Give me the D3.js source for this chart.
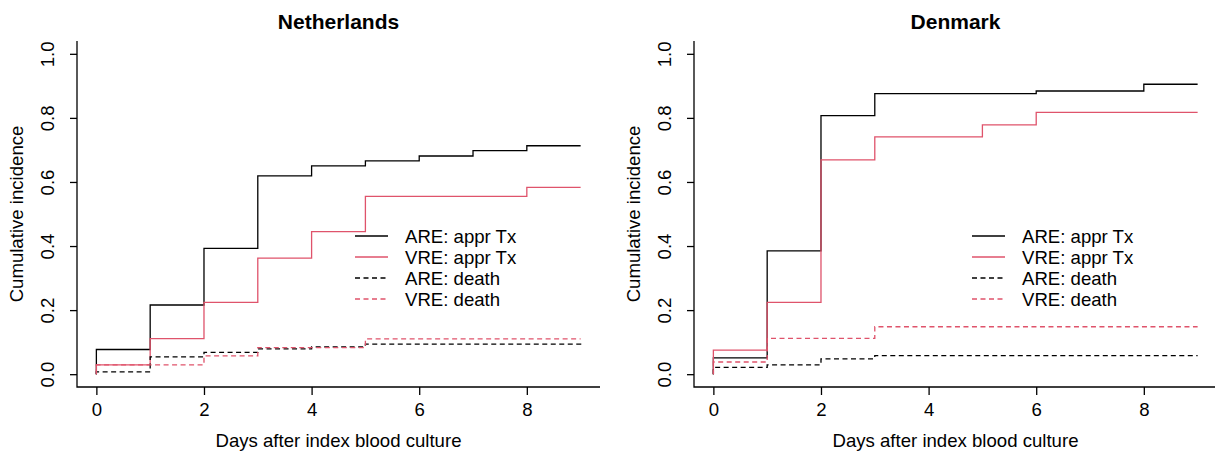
<!DOCTYPE html>
<html>
<head>
<meta charset="utf-8">
<script src="https://cdn.jsdelivr.net/npm/d3@7"></script>
<style>
  body { margin: 0; background: #fff; }
  text { font-family: "Liberation Sans", Arial, sans-serif; fill: #000; }
</style>
</head>
<body>
<svg id="chart"></svg>
<script>
var width = 1215;
var height = 454;

// days after index blood culture
var days = [0, 1, 2, 3, 4, 5, 6, 7, 8, 9];
var xTicks = [0, 2, 4, 6, 8];
var yTicks = [0, 0.2, 0.4, 0.6, 0.8, 1.0];
var countries = ["Netherlands", "Denmark"];
var seriesNames = ["ARE: appr Tx", "VRE: appr Tx", "ARE: death", "VRE: death"];

// cumulative incidence, one value per day
var nlAreTx    = [0.077, 0.216, 0.393, 0.619, 0.650, 0.666, 0.681, 0.698, 0.713, 0.713];
var nlVreTx    = [0.029, 0.111, 0.224, 0.362, 0.445, 0.555, 0.555, 0.555, 0.583, 0.583];
var nlAreDeath = [0.007, 0.054, 0.068, 0.079, 0.085, 0.094, 0.094, 0.094, 0.094, 0.098];
var nlVreDeath = [0.029, 0.029, 0.057, 0.083, 0.083, 0.110, 0.110, 0.110, 0.110, 0.110];

var dkAreTx    = [0.051, 0.385, 0.807, 0.876, 0.876, 0.876, 0.884, 0.884, 0.905, 0.905];
var dkVreTx    = [0.075, 0.224, 0.669, 0.741, 0.741, 0.778, 0.817, 0.817, 0.817, 0.817];
var dkAreDeath = [0.021, 0.029, 0.048, 0.058, 0.058, 0.058, 0.058, 0.058, 0.058, 0.058];
var dkVreDeath = [0.038, 0.112, 0.112, 0.148, 0.148, 0.148, 0.148, 0.148, 0.148, 0.148];

var panelSeries = [
    [nlAreTx, nlVreTx, nlAreDeath, nlVreDeath],
    [dkAreTx, dkVreTx, dkAreDeath, dkVreDeath]
];

var red = "#DF536B";
var colors = ["#000", red, "#000", red];
var dashes = [null, null, "5,3.5", "5,3.5"];
var fontSize = 18.6;

var panelOffset = [0, 617];
var plot = { left: 77, top: 41, width: 523, height: 346 };

var svg = d3.select("#chart")
            .attr("width", width)
            .attr("height", height);

// R style: domain padded by 4% on each side
var xscale = d3.scaleLinear()
                .domain([-0.36, 9.36])
                .range([0, plot.width]);
var yscale = d3.scaleLinear()
                .domain([-0.04, 1.04])
                .range([plot.height, 0]);

var line = d3.line()
             .x(function(d){ return xscale(d[0]); })
             .y(function(d){ return yscale(d[1]); })
             .curve(d3.curveStepAfter);

countries.forEach(function(name, p) {
    var g = svg.append("g")
               .attr("transform", "translate(" + (plot.left + panelOffset[p]) + "," + plot.top + ")");

    // L shaped box
    g.append("path")
     .attr("d", "M0,0V" + plot.height + "H" + plot.width)
     .attr("fill", "none")
     .attr("stroke", "#000")
     .attr("stroke-width", 1.3);

    var xaxis = d3.axisBottom(xscale).tickValues(xTicks).tickSize(8).tickPadding(8).tickFormat(d3.format("d"));
    var gx = g.append("g")
              .attr("transform", "translate(0," + plot.height + ")")
              .call(xaxis);
    gx.select(".domain").remove();
    gx.selectAll("line").attr("stroke-width", 1.3);
    gx.selectAll("text").attr("font-size", fontSize).attr("font-family", "Liberation Sans, Arial, sans-serif");

    var yaxis = d3.axisLeft(yscale).tickValues(yTicks).tickSize(7).tickFormat(d3.format(".1f"));
    var gy = g.append("g").call(yaxis);
    gy.select(".domain").remove();
    gy.selectAll("line").attr("stroke-width", 1.3);
    // rotated tick labels, like R's default las = 0
    gy.selectAll("text")
      .attr("font-size", fontSize)
      .attr("font-family", "Liberation Sans, Arial, sans-serif")
      .attr("x", 0).attr("y", 0).attr("dy", null)
      .attr("text-anchor", "middle")
      .attr("transform", "translate(-23.5,0) rotate(-90)");

    // titles and axis labels
    g.append("text")
     .attr("x", plot.width / 2)
     .attr("y", -12)
     .attr("text-anchor", "middle")
     .attr("font-size", 21)
     .attr("font-weight", "bold")
     .text(name);
    g.append("text")
     .attr("x", plot.width / 2)
     .attr("y", plot.height + 60)
     .attr("text-anchor", "middle")
     .attr("font-size", fontSize)
     .text("Days after index blood culture");
    g.append("text")
     .attr("transform", "translate(-54," + (plot.height / 2) + ") rotate(-90)")
     .attr("text-anchor", "middle")
     .attr("font-size", fontSize)
     .text("Cumulative incidence");

    // step curves, starting from 0 at day 0
    panelSeries[p].forEach(function(vals, i) {
        var pts = [[0, 0]].concat(days.map(function(d, k){ return [d, vals[k]]; }));
        g.append("path")
         .attr("d", line(pts))
         .attr("fill", "none")
         .attr("stroke", colors[i])
         .attr("stroke-width", 1.3)
         .attr("stroke-dasharray", dashes[i]);
    });

    // legend
    var leg = g.append("g").attr("transform", "translate(278,195)");
    seriesNames.forEach(function(s, i) {
        leg.append("line")
           .attr("x1", 0).attr("x2", 33)
           .attr("y1", i * 21).attr("y2", i * 21)
           .attr("stroke", colors[i])
           .attr("stroke-width", 1.3)
           .attr("stroke-dasharray", dashes[i]);
        leg.append("text")
           .attr("x", 50)
           .attr("y", i * 21 + 6.5)
           .attr("font-size", fontSize)
           .text(s);
    });
});
</script>
</body>
</html>
